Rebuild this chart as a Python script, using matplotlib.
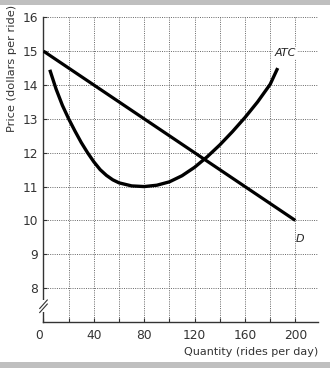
import numpy as np
import matplotlib.pyplot as plt
from matplotlib.patches import Rectangle

# demand curve D (quantity, price)
d_q = [0, 200]
d_p = [15, 10]

# average total cost curve
atc_q = [5, 10, 15, 20, 25, 30, 35, 40, 45, 50, 55, 60, 70, 80, 90, 100, 110,
         120, 130, 140, 150, 160, 170, 180, 186]
atc_p = [14.45, 13.88, 13.4, 13.0, 12.64, 12.3, 12.0, 11.73, 11.5, 11.33,
         11.2, 11.11, 11.02, 11.0, 11.04, 11.14, 11.32, 11.57, 11.88, 12.23,
         12.62, 13.04, 13.5, 14.02, 14.5]

x_major = [0, 40, 80, 120, 160, 200]
x_minor = [20, 60, 100, 140, 180]
y_ticks = [8, 9, 10, 11, 12, 13, 14, 15, 16]

plt.rcParams['font.family'] = ['DejaVu Sans']

fig = plt.figure(figsize=(3.3, 3.68), dpi=100)
fig.patch.set_facecolor('white')

# gray bands top and bottom
fig.patches.append(Rectangle((0, 1 - 5 / 368), 1, 5 / 368, transform=fig.transFigure,
                             facecolor='#bfbfbf', edgecolor='none'))
fig.patches.append(Rectangle((0, 0), 1, 6 / 368, transform=fig.transFigure,
                             facecolor='#bfbfbf', edgecolor='none'))

ax = fig.add_axes([43.5 / 330, 1 - 322 / 368, 274.5 / 330, 304.7 / 368])
ax.set_xlim(0, 218)
ax.set_ylim(7, 16)

for s in ['top', 'right']:
    ax.spines[s].set_visible(False)
for s in ['left', 'bottom']:
    ax.spines[s].set_color('#333333')
    ax.spines[s].set_linewidth(1.0)

grid_kw = dict(color='#666666', lw=0.7, ls=(0, (1, 1.3)), zorder=1)
for q in x_major[1:] + x_minor:
    ax.plot([q, q], [7, 16], clip_on=False, **grid_kw)
for p in y_ticks:
    ax.plot([0, 218], [p, p], clip_on=False, **grid_kw)

ax.plot(d_q, d_p, color='black', lw=2.3, solid_capstyle='butt', zorder=3)
ax.plot(atc_q, atc_p, color='black', lw=2.4, solid_capstyle='butt',
        solid_joinstyle='round', zorder=3)

ax.text(192, 14.95, 'ATC', style='italic', fontsize=8, ha='center', va='center',
        color='#222222', bbox=dict(facecolor='white', edgecolor='none', pad=1), zorder=4)
ax.text(204, 9.45, 'D', style='italic', fontsize=8, ha='center', va='center',
        color='#222222', zorder=4)

ax.set_xticks(x_major)
ax.set_xticks(x_minor, minor=True)
ax.set_yticks(y_ticks)
ax.tick_params(axis='both', which='both', direction='in', length=3, width=0.8,
               color='#333333', labelsize=8.8, labelcolor='#333333')
ax.tick_params(axis='x', pad=5)
ax.tick_params(axis='y', pad=4)
ax.get_xticklabels()[0].set_ha('right')

# axis break on the price axis
ax.add_patch(Rectangle((-2, 7.3), 4, 0.35, facecolor='white', edgecolor='none',
                       clip_on=False, zorder=5))
for y0 in [7.28, 7.4]:
    ax.plot([-3, 3], [y0, y0 + 0.25], color='#333333', lw=0.8, clip_on=False, zorder=6)

fig.text(12 / 330, 1 - 68 / 368, 'Price (dollars per ride)', rotation=90,
         ha='center', va='center', fontsize=8.2, color='#333333')
fig.text(318 / 330, 1 - 352 / 368, 'Quantity (rides per day)', ha='right',
         va='center', fontsize=8, color='#333333')

fig.savefig('out.png', dpi=100)
